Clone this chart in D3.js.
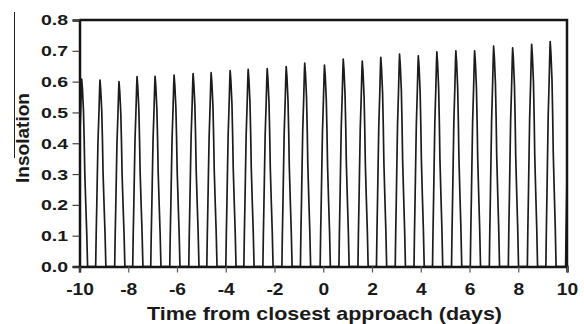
<!DOCTYPE html>
<html>
<head>
<meta charset="utf-8">
<script src="https://cdn.jsdelivr.net/npm/d3@7"></script>
<style>
  html, body { margin: 0; padding: 0; background: #fff; }
  svg { display: block; }
  text { font-family: "Liberation Sans", Arial, sans-serif; font-weight: bold; fill: #1a1a1a; }
</style>
</head>
<body>
<svg id="chart" width="584" height="324"></svg>
<script>
// ---- Data ----
const xTicks = [-10, -8, -6, -4, -2, 0, 2, 4, 6, 8, 10];
const yTicks = [0, 0.1, 0.2, 0.3, 0.4, 0.5, 0.6, 0.7, 0.8];
// times (days) of each daily insolation maximum
const peakTimes = [-9.91, -9.16, -8.38, -7.64, -6.90, -6.12, -5.34, -4.60, -3.82, -3.08,
                   -2.30, -1.52, -0.76, 0.05, 0.82, 1.60, 2.36, 3.13, 3.90, 4.66,
                   5.44, 6.21, 6.99, 7.77, 8.55, 9.31, 10.12];
// maximum insolation of each day
const peakValues = [0.608, 0.605, 0.600, 0.616, 0.617, 0.621, 0.626, 0.629, 0.636, 0.640,
                    0.642, 0.649, 0.660, 0.654, 0.673, 0.667, 0.679, 0.689, 0.684, 0.697,
                    0.700, 0.700, 0.715, 0.710, 0.721, 0.730, 0.730];
// shape of one daily lobe: fraction of the day's maximum, and time before / after the maximum (days)
const lobeFraction = [0, 0.17, 0.33, 0.5, 0.67, 0.83, 0.95, 1];
const lobeBefore   = [0.177, 0.156, 0.131, 0.107, 0.082, 0.041, 0.015, 0];
const lobeAfter    = [0.242, 0.209, 0.168, 0.127, 0.103, 0.074, 0.030, 0];

// ---- Layout ----
const svg = d3.select("#chart");
const pL = 79.5, pR = 567, pT = 20, pB = 266.5;

const x = d3.scaleLinear().domain([-10, 10]).range([pL, pR]);
const y = d3.scaleLinear().domain([0, 0.8]).range([pB, pT]);

// build the series from the lobes
const series = [];
peakTimes.forEach((tp, k) => {
  const v = peakValues[k];
  for (let i = 0; i < lobeFraction.length; i++) series.push([tp - lobeBefore[i], lobeFraction[i] * v]);
  for (let i = lobeFraction.length - 2; i >= 0; i--) series.push([tp + lobeAfter[i], lobeFraction[i] * v]);
});

svg.append("defs").append("clipPath").attr("id", "plotclip")
  .append("rect").attr("x", pL).attr("y", pT - 2)
  .attr("width", pR - pL).attr("height", pB - pT + 2);

svg.append("path")
  .datum(series)
  .attr("clip-path", "url(#plotclip)")
  .attr("fill", "none")
  .attr("stroke", "#1c1c1c")
  .attr("stroke-width", 1.7)
  .attr("stroke-linejoin", "round")
  .attr("d", d3.line().x(d => x(d[0])).y(d => y(d[1])));

// frame (top and right)
svg.append("path")
  .attr("d", `M${pL},${pT}H${pR}V${pB}`)
  .attr("fill", "none").attr("stroke", "#151515").attr("stroke-width", 2.5);

// y axis
const gy = svg.append("g").attr("transform", `translate(${pL},0)`)
  .call(d3.axisLeft(y).tickValues(yTicks).tickFormat(d3.format(".1f")).tickSize(7).tickPadding(4));
gy.select(".domain").attr("stroke", "#151515").attr("stroke-width", 2.5);
gy.selectAll(".tick line").attr("stroke", "#444").attr("stroke-width", 1.2);
gy.selectAll(".tick text")
  .attr("font-size", 15.5)
  .attr("x", -9)
  .attr("transform", "scale(1.26,1)")
  .attr("fill", "#1a1a1a");

// x axis
const gx = svg.append("g").attr("transform", `translate(0,${pB})`)
  .call(d3.axisBottom(x).tickValues(xTicks).tickFormat(d => String(d)).tickSize(6).tickPadding(11));
gx.select(".domain").attr("stroke", "#151515").attr("stroke-width", 2.5);
gx.selectAll(".tick line").attr("stroke", "#555").attr("stroke-width", 1.2);
gx.selectAll(".tick text")
  .attr("font-size", 16)
  .attr("transform", "scale(1.2,1)")
  .attr("fill", "#1a1a1a");

// axis titles
svg.append("text")
  .attr("x", 324.5).attr("y", 320)
  .attr("text-anchor", "middle")
  .attr("font-size", 18.5)
  .attr("textLength", 355).attr("lengthAdjust", "spacingAndGlyphs")
  .text("Time from closest approach (days)");

svg.append("text")
  .attr("transform", "translate(28.5,138) rotate(-90)")
  .attr("text-anchor", "middle")
  .attr("font-size", 18.5)
  .attr("textLength", 90).attr("lengthAdjust", "spacingAndGlyphs")
  .text("Insolation");

// thin vertical rule seen beside the y title in the reference
svg.append("line")
  .attr("x1", 14.5).attr("x2", 14.5).attr("y1", 12).attr("y2", 158)
  .attr("stroke", "#222").attr("stroke-width", 1);
</script>
</body>
</html>
